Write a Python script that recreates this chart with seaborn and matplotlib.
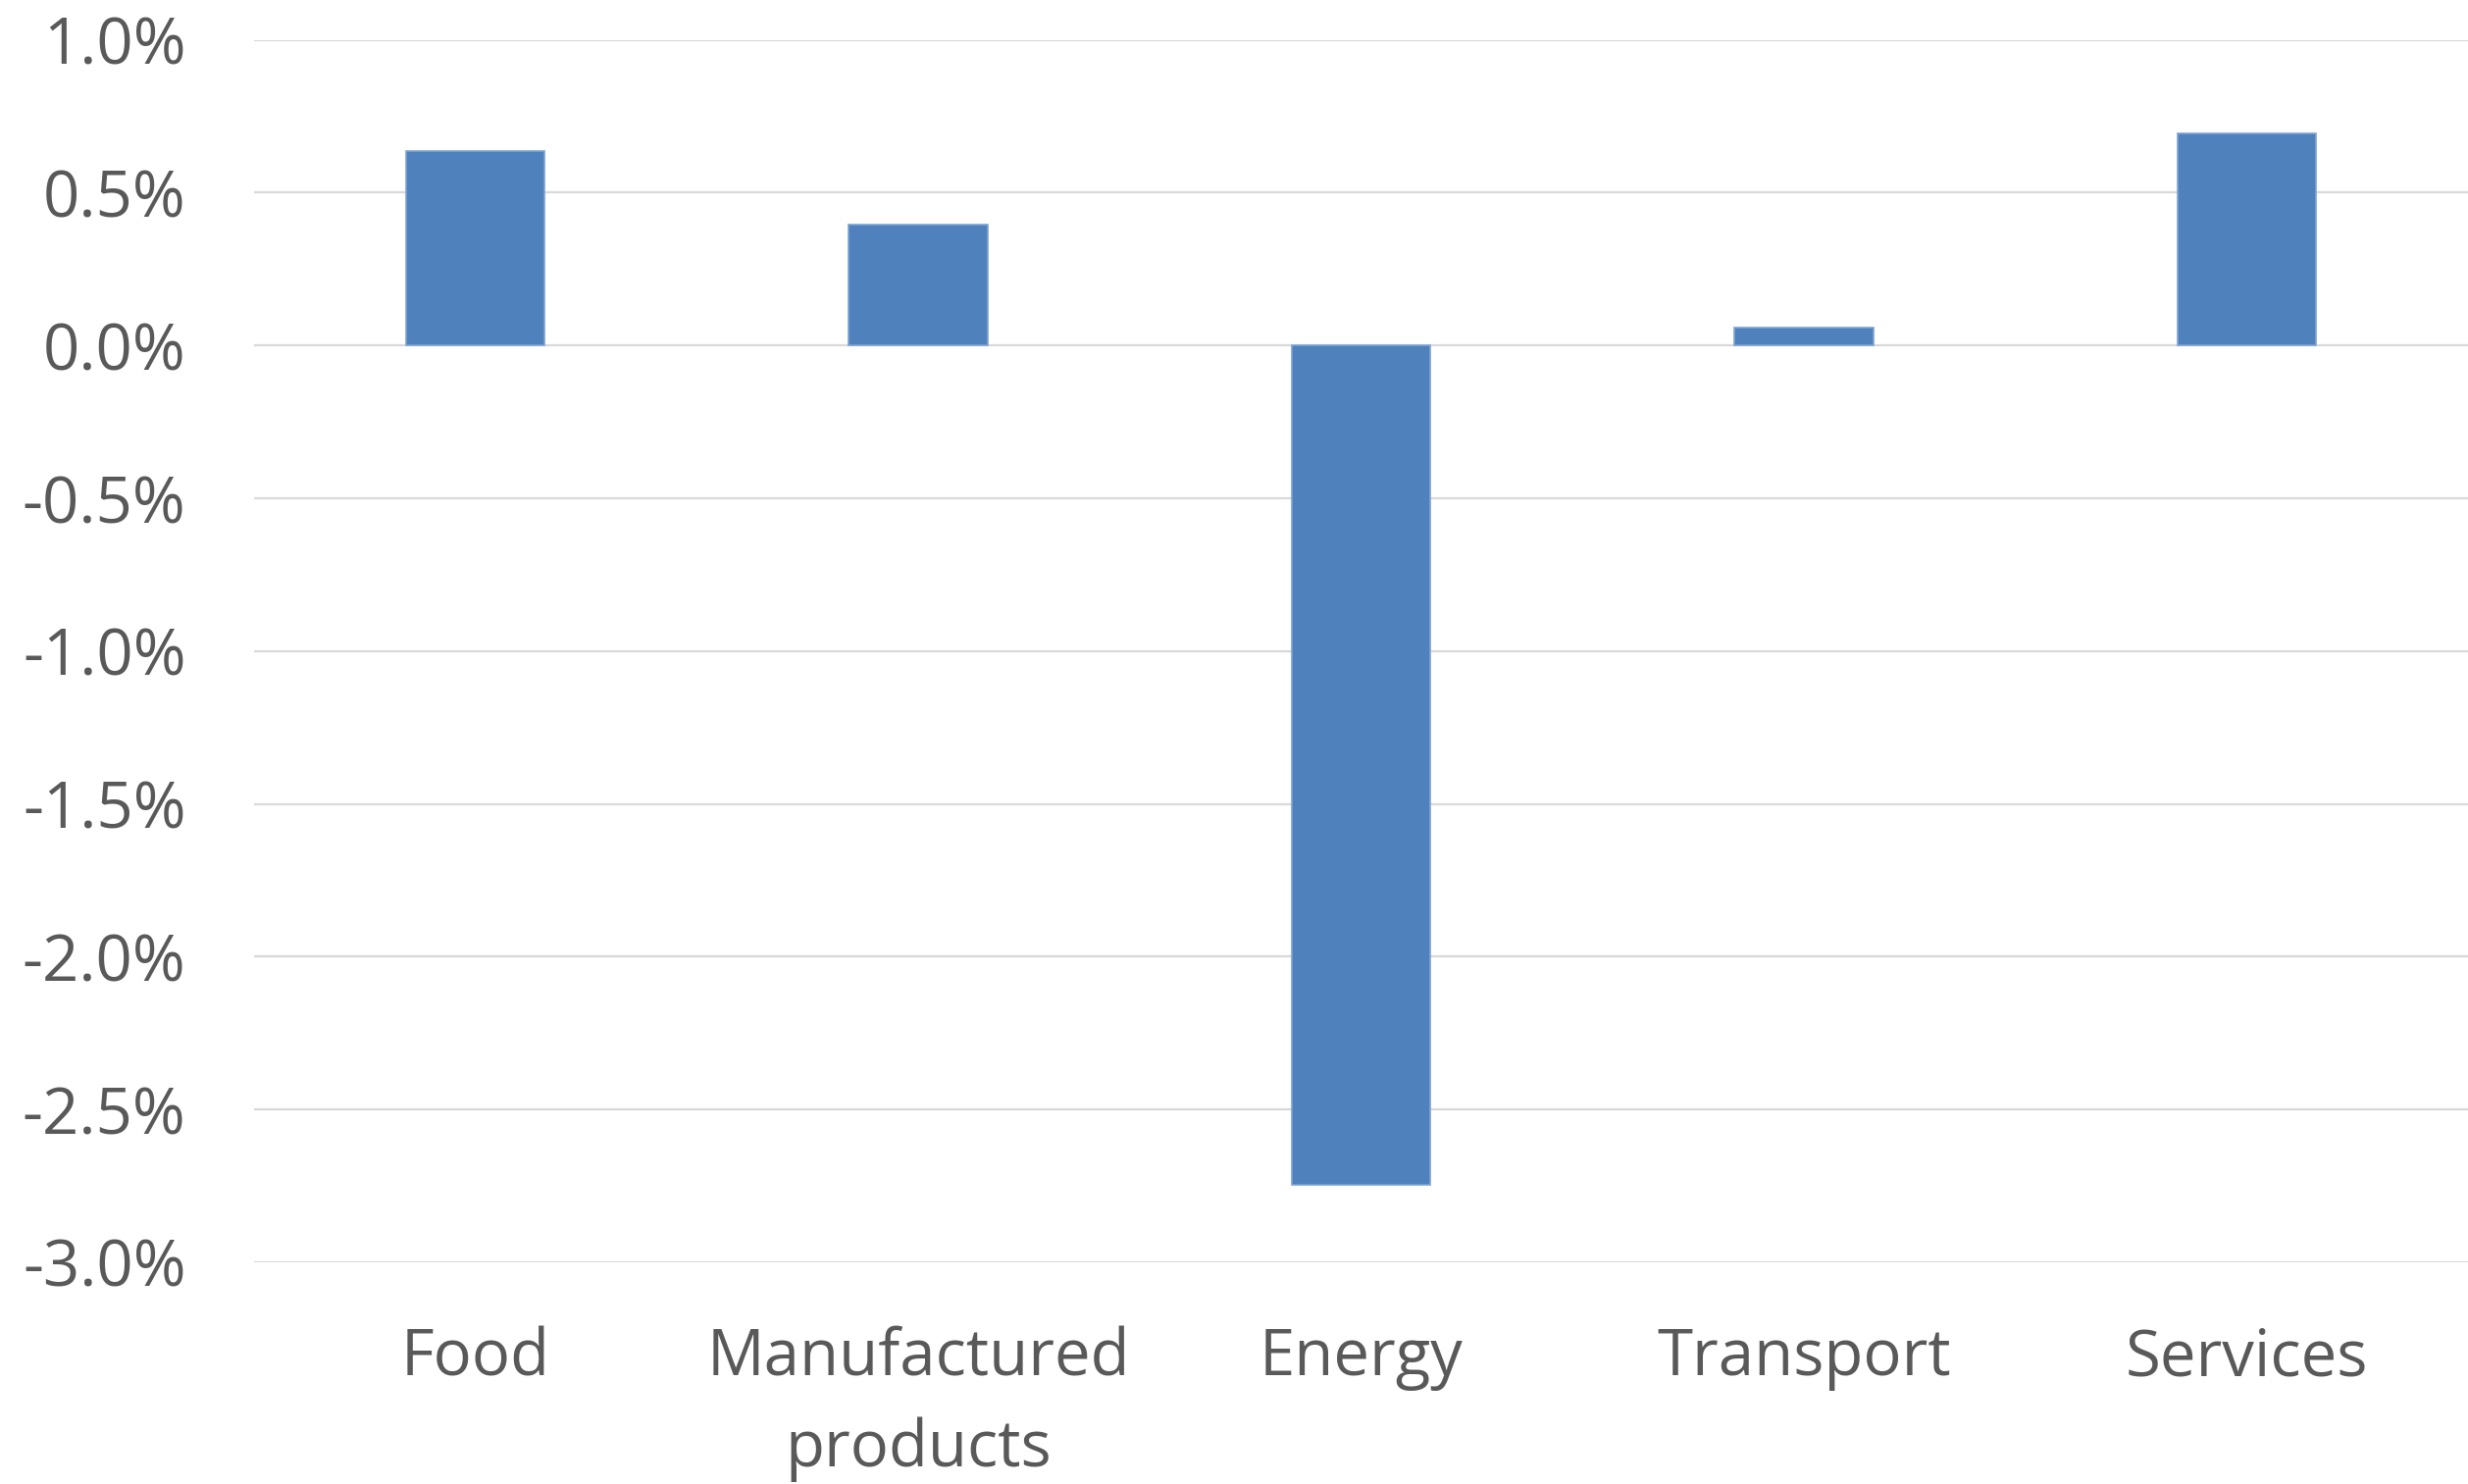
import matplotlib
matplotlib.use("Agg")
import matplotlib.pyplot as plt
import seaborn as sns
import pandas as pd
from matplotlib.ticker import FuncFormatter, MultipleLocator

categories = ["Food", "Manufactured\nproducts", "Energy", "Transport", "Services"]
changes_pct = [0.635, 0.395, -2.745, 0.06, 0.695]

df = pd.DataFrame({"category": categories, "change": changes_pct})

sns.set_theme(style="white")
plt.rcParams["font.family"] = ["Open Sans", "DejaVu Sans"]

text_color = "#595959"
bar_color = "#4F81BD"

fig = plt.figure(figsize=(25.16, 15.13), dpi=100)
ax = fig.add_axes([259 / 2516, 1 - 1287 / 1513, 1 - 259 / 2516, (1287 - 40.7) / 1513])

sns.barplot(data=df, x="category", y="change", color=bar_color, width=0.313,
            saturation=1, edgecolor="#7FA3D1", linewidth=1.2, ax=ax, zorder=3)

ax.set_ylim(-3.0, 1.0)
ax.set_xlim(-0.5, len(categories) - 0.5)
ax.yaxis.set_major_locator(MultipleLocator(0.5))
ax.yaxis.set_major_formatter(FuncFormatter(lambda v, _: f"{v:.1f}%"))
ax.grid(axis="y", color="#D9D9D9", linewidth=1.6, zorder=0)
ax.grid(axis="x", visible=False)
ax.set_axisbelow(True)

for s in ax.spines.values():
    s.set_visible(False)

ax.set_xlabel("")
ax.set_ylabel("")
ax.tick_params(axis="y", length=0, pad=50, labelsize=47, labelcolor=text_color)
ax.tick_params(axis="x", length=0, pad=47, labelsize=47, labelcolor=text_color)
for lbl in ax.get_xticklabels():
    lbl.set_linespacing(1.52)

fig.savefig("out.png", dpi=100, facecolor="white")
